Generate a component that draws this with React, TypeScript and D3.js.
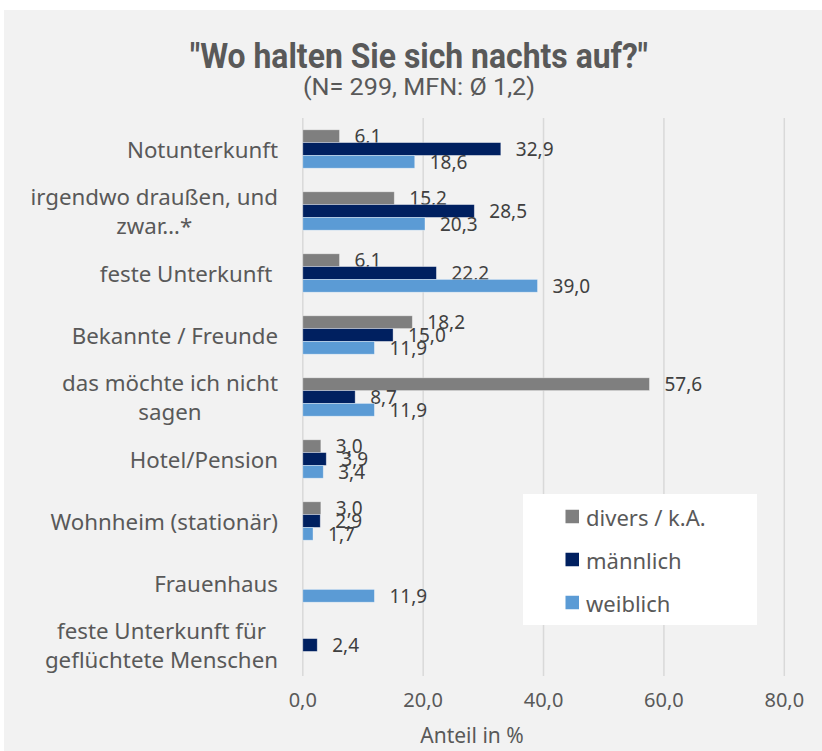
import React from "react";
import * as d3 from "d3";

const categories: string[][] = [
  ["Notunterkunft"],
  ["irgendwo draußen, und", "zwar…*"],
  ["feste Unterkunft "],
  ["Bekannte / Freunde"],
  ["das möchte ich nicht", "sagen"],
  ["Hotel/Pension"],
  ["Wohnheim (stationär)"],
  ["Frauenhaus"],
  ["feste Unterkunft für", "geflüchtete Menschen"],
];
const seriesNames = ["divers / k.A.", "männlich", "weiblich"];
const divers: (number | null)[] = [6.1, 15.2, 6.1, 18.2, 57.6, 3.0, 3.0, null, null];
const maennlich: (number | null)[] = [32.9, 28.5, 22.2, 15.0, 8.7, 3.9, 2.9, null, 2.4];
const weiblich: (number | null)[] = [18.6, 20.3, 39.0, 11.9, 11.9, 3.4, 1.7, 11.9, null];
const xTicks = [0, 20, 40, 60, 80];
const colors = ["#7f7f7f", "#002060", "#5b9bd5"];

const W = 822;
const H = 751;
const fontFam = "'Noto Sans', 'Open Sans', sans-serif";
const condFam = "'Roboto', 'Noto Sans', sans-serif";

let ctx: CanvasRenderingContext2D | null = null;
function measure(t: string, font: string): number {
  if (!ctx) ctx = document.createElement("canvas").getContext("2d");
  if (!ctx) return t.length * 10;
  ctx.font = font;
  return ctx.measureText(t).width;
}

export default function App() {
  const x = d3.scaleLinear().domain([0, 80]).range([302.8, 784.3]);
  const idx = categories.map((_, i) => String(i));
  const y = d3.scaleBand().domain(idx).range([118, 676]).paddingInner(0).paddingOuter(0);
  const barH = y.bandwidth() * 0.62;
  const sub = d3.scaleBand().domain(["0", "1", "2"]).range([0, barH]);
  const series = [divers, maennlich, weiblich];
  const fmt = (v: number) => v.toFixed(1).replace(".", ",");
  const catSize = 22.3;
  const catFont = `${catSize}px ${fontFam}`;
  const labelRight = 278;

  return (
    <svg width={W} height={H} style={{ display: "block", position: "absolute", left: 0, top: 0 }}>
      <rect x={4} y={10} width={W - 4} height={H - 10} fill="#f2f2f2" />
      <text x={190} y={68} fontFamily={condFam} fontWeight="bold" fontSize={35} fill="#595959"
        textLength={458} lengthAdjust="spacingAndGlyphs">
        "Wo halten Sie sich nachts auf?"
      </text>
      <text x={303} y={95} fontFamily={condFam} fontSize={23} fill="#595959"
        textLength={232} lengthAdjust="spacingAndGlyphs">
        (N= 299, MFN: Ø 1,2)
      </text>
      {xTicks.map((t) => (
        <line key={"g" + t} x1={x(t)} x2={x(t)} y1={118} y2={676} stroke="#d9d9d9" strokeWidth={1.5} />
      ))}
      {xTicks.map((t) => (
        <text key={"t" + t} x={x(t)} y={707} textAnchor="middle" fontFamily={fontFam} fontSize={20} fill="#595959">
          {fmt(t)}
        </text>
      ))}
      <text x={472} y={743} textAnchor="middle" fontFamily={fontFam} fontSize={21} fill="#595959">
        Anteil in %
      </text>
      {categories.map((lines, i) => {
        const cy = (y(String(i)) as number) + y.bandwidth() / 2;
        const lh = 29;
        const widths = lines.map((l) => measure(l.trimEnd(), catFont));
        const maxW = Math.max(...widths);
        const cx = labelRight - maxW / 2;
        return lines.map((l, j) => {
          const ly = cy + (j - (lines.length - 1) / 2) * lh;
          if (lines.length === 1) {
            return (
              <text key={i + "-" + j} x={labelRight} y={ly} textAnchor="end" dominantBaseline="central"
                fontFamily={fontFam} fontSize={catSize} fill="#595959" style={{ whiteSpace: "pre" }}>
                {l}
              </text>
            );
          }
          return (
            <text key={i + "-" + j} x={cx} y={ly} textAnchor="middle" dominantBaseline="central"
              fontFamily={fontFam} fontSize={catSize} fill="#595959">
              {l}
            </text>
          );
        });
      })}
      {series.map((vals, s) =>
        vals.map((v, i) => {
          if (v === null) return null;
          const y0 = (y(String(i)) as number) + (y.bandwidth() - barH) / 2 + (sub(String(s)) as number);
          return (
            <g key={s + "-" + i}>
              <rect x={x(0)} y={y0} width={x(v) - x(0)} height={sub.bandwidth()} fill={colors[s]}
                stroke="rgba(255,255,255,0.45)" strokeWidth={0.8} />
              <text x={x(v) + 15} y={y0 + sub.bandwidth() / 2} dominantBaseline="central"
                fontFamily={fontFam} fontSize={19} fill="#404040">
                {fmt(v)}
              </text>
            </g>
          );
        })
      )}
      <rect x={523} y={494} width={234} height={131} fill="#ffffff" />
      {seriesNames.map((n, s) => {
        const cy = 516.5 + s * 43;
        return (
          <g key={n}>
            <rect x={565.5} y={cy - 6.75} width={13.5} height={13.5} fill={colors[s]} />
            <text x={586} y={cy} dominantBaseline="central" fontFamily={fontFam} fontSize={22} fill="#595959">
              {n}
            </text>
          </g>
        );
      })}
    </svg>
  );
}
